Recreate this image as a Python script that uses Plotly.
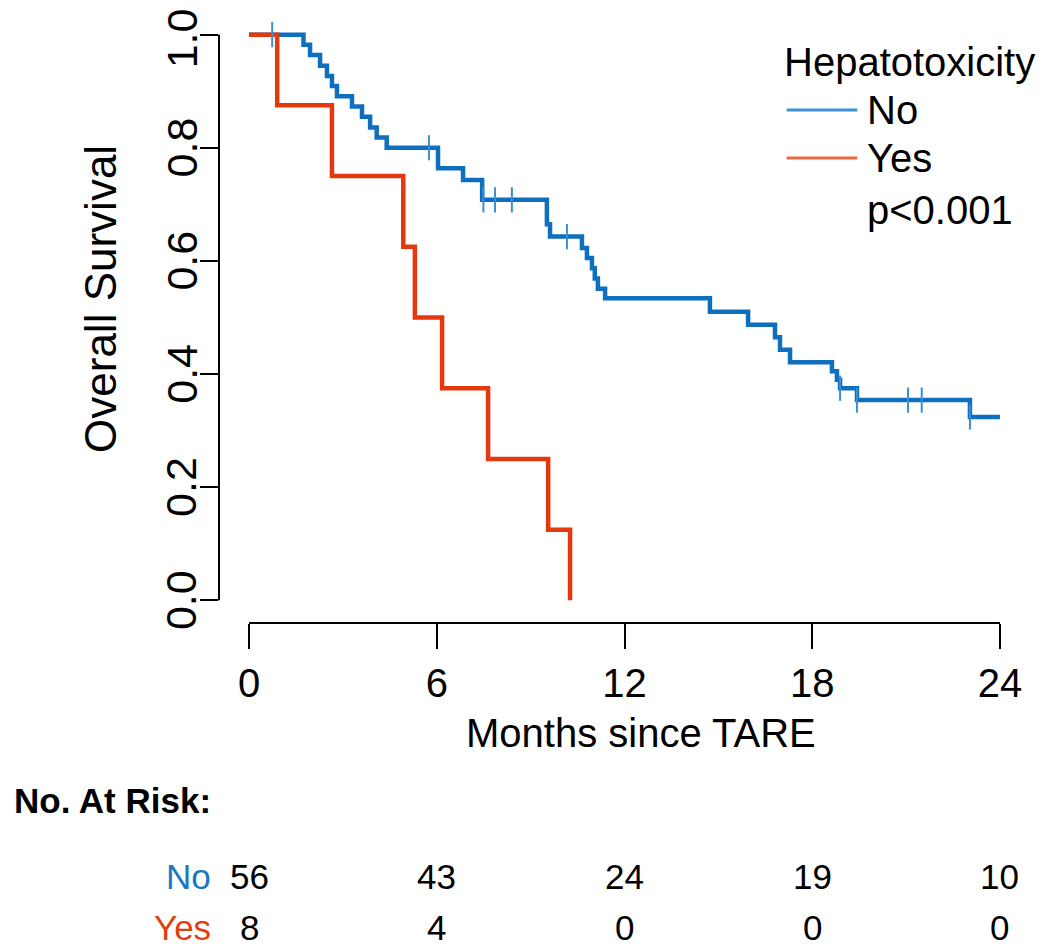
import plotly.graph_objects as go

# Kaplan-Meier curves (months, survival)
no_time = [0, 1.74, 1.95, 2.27, 2.49, 2.65, 2.81, 3.29, 3.61, 3.87, 4.08, 4.40,
           6.04, 6.84, 7.45, 9.52, 9.62, 10.64, 10.80, 10.96, 11.05, 11.15, 11.38,
           14.73, 15.95, 16.81, 16.97, 17.29, 18.63, 18.79, 18.89, 19.43, 23.04, 24.0]
no_surv = [1.0, 0.982, 0.964, 0.945, 0.927, 0.909, 0.891, 0.873, 0.855, 0.836, 0.818, 0.800,
           0.764, 0.743, 0.708, 0.665, 0.643, 0.623, 0.605, 0.587, 0.569, 0.551, 0.534,
           0.510, 0.487, 0.465, 0.443, 0.421, 0.405, 0.390, 0.375, 0.354, 0.324, 0.324]

no_cens_time = [0.74, 5.75, 7.49, 7.86, 8.40, 10.16, 18.89, 19.43, 21.06, 21.50, 23.04]
no_cens_surv = [1.0, 0.80, 0.708, 0.708, 0.708, 0.643, 0.375, 0.354, 0.354, 0.354, 0.324]

yes_time = [0, 0.90, 2.65, 4.93, 5.30, 6.17, 7.64, 9.56, 10.26]
yes_surv = [1.0, 0.875, 0.75, 0.625, 0.5, 0.375, 0.25, 0.125, 0.0]

# numbers at risk
risk_times = [0, 6, 12, 18, 24]
risk_no = [56, 43, 24, 19, 10]
risk_yes = [8, 4, 0, 0, 0]

x_ticks = [0, 6, 12, 18, 24]
y_ticks = [0.0, 0.2, 0.4, 0.6, 0.8, 1.0]

BLUE = '#0f6fbf'
RED = '#e4380e'
BLUE_LEG = '#3b8fd2'
RED_LEG = '#ea6a40'
FONT = 'Liberation Sans, Arial, sans-serif'

fig = go.Figure()

fig.add_trace(go.Scatter(
    x=no_time, y=no_surv, mode='lines', line_shape='hv',
    line=dict(color=BLUE, width=4.5), name='No', showlegend=False,
))
fig.add_trace(go.Scatter(
    x=yes_time, y=yes_surv, mode='lines', line_shape='hv',
    line=dict(color=RED, width=4.5), name='Yes', showlegend=False,
))
fig.add_trace(go.Scatter(
    x=no_cens_time, y=no_cens_surv, mode='markers',
    marker=dict(symbol='line-ns-open', size=18, color=BLUE_LEG,
                line=dict(color=BLUE_LEG, width=2)),
    showlegend=False, hoverinfo='skip',
))

# the page body adds an 8px offset, so the figure is 8px smaller each way
fig.update_layout(
    width=1042, height=940,
    margin=dict(l=211, r=20, t=4, b=325),
    plot_bgcolor='white', paper_bgcolor='white',
    font=dict(family=FONT, color='black'),
)

fig.update_xaxes(
    range=[-0.96, 24.96], tickvals=x_ticks, ticks='outside', ticklen=25,
    tickwidth=2, tickcolor='black', showline=False, showgrid=False, zeroline=False,
    tickfont=dict(size=40, family=FONT), ticklabelstandoff=0, automargin=False,
)
fig.update_yaxes(
    range=[-0.04, 1.04], tickvals=y_ticks, ticks='outside', ticklen=18,
    tickwidth=2, tickcolor='black', showticklabels=False,
    showline=False, showgrid=False, zeroline=False, automargin=False,
)

# R style axis lines spanning first to last tick
fig.add_shape(type='line', xref='x', yref='paper', x0=x_ticks[0], x1=x_ticks[-1], y0=0, y1=0,
              line=dict(color='black', width=2))
fig.add_shape(type='line', xref='paper', yref='y', x0=0, x1=0, y0=y_ticks[0], y1=y_ticks[-1],
              line=dict(color='black', width=2))

# rotated y tick labels (parallel to the axis, as in base R)
for v in y_ticks:
    fig.add_annotation(text=f'{v:.1f}', xref='paper', yref='y', x=-0.046, y=v,
                       showarrow=False, font=dict(size=43), textangle=-90,
                       xanchor='center', yanchor='middle',
                       yshift=-4 if v == y_ticks[-1] else 0)

# axis titles
fig.add_annotation(text='Months since TARE', xref='paper', yref='paper', x=0.52, y=-0.18,
                   showarrow=False, font=dict(size=40), xanchor='center', yanchor='middle')
fig.add_annotation(text='Overall Survival', xref='paper', yref='paper', x=-0.147, y=0.53,
                   showarrow=False, font=dict(size=44), textangle=-90,
                   xanchor='center', yanchor='middle')

# legend drawn by hand to match the original layout
fig.add_annotation(text='Hepatotoxicity', xref='paper', yref='paper', x=0.694, y=0.918,
                   showarrow=False, font=dict(size=40), xanchor='left', yanchor='middle')
for label, col, yp in [('No', BLUE_LEG, 0.8396), ('Yes', RED_LEG, 0.761)]:
    fig.add_shape(type='line', xref='paper', yref='paper', x0=0.700, x1=0.787, y0=yp, y1=yp,
                  line=dict(color=col, width=3))
    fig.add_annotation(text=label, xref='paper', yref='paper', x=0.797, y=yp,
                       showarrow=False, font=dict(size=40), xanchor='left', yanchor='middle')
fig.add_annotation(text='p<0.001', xref='paper', yref='paper', x=0.797, y=0.676,
                   showarrow=False, font=dict(size=40), xanchor='left', yanchor='middle')

# number at risk table
fig.add_annotation(text='<b>No. At Risk:</b>', xref='paper', yref='paper', x=-0.255, y=-0.2897,
                   showarrow=False, font=dict(size=35), xanchor='left', yanchor='middle')
for label, col, counts, yp in [('No', '#1a78c2', risk_no, -0.4157),
                               ('Yes', '#e0400e', risk_yes, -0.4990)]:
    fig.add_annotation(text=label, xref='paper', yref='paper', x=-0.008, y=yp,
                       showarrow=False, font=dict(size=35, color=col), xanchor='right',
                       yanchor='middle')
    for t, n in zip(risk_times, counts):
        fig.add_annotation(text=str(n), xref='x', yref='paper', x=t, y=yp,
                           showarrow=False, font=dict(size=35), xanchor='center',
                           yanchor='middle')

fig.write_html('out.html')
